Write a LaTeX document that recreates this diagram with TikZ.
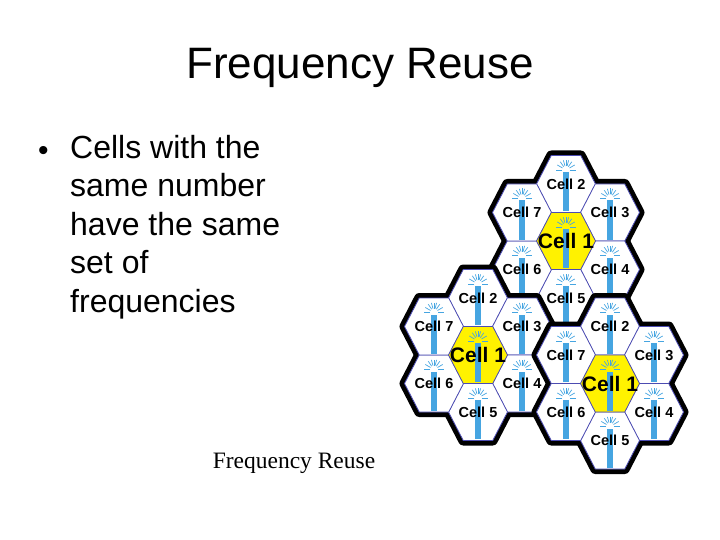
\documentclass[tikz,border=0pt]{standalone}
\usepackage{fontspec}
\setmainfont{Liberation Sans}
\newfontfamily\timesf{Liberation Serif}
\usetikzlibrary{calc}
\begin{document}
\begin{tikzpicture}[x=1pt,y=-1pt,
  thickb/.style={draw=black,line width=10pt,line join=round},
  whitef/.style={fill=white},
  thinl/.style={draw=blue!40!gray,line width=0.8pt},
  lbl/.style={font=\bfseries\fontsize{14.5}{14.5}\selectfont,inner sep=1pt},
  bigl/.style={font=\bfseries\fontsize{21}{21}\selectfont,inner sep=1pt},
  txt/.style={font=\fontsize{32}{38.5}\selectfont,inner sep=0pt}]
\useasboundingbox (0,0) rectangle (720,540);
\definecolor{ant}{RGB}{70,165,225}
\def\R{29.5}\def\h{28.5}
\newcommand\hexpath[1]{(#1) ++(-\R,0) -- ++(\R/2,-\h) -- ++(\R,0) -- ++(\R/2,\h) -- ++(-\R/2,\h) -- ++(-\R,0) -- cycle}
\newcommand\antenna[1]{%
  \fill[ant] ($(#1)+(-3,-12)$) rectangle ($(#1)+(3,27)$);
  \foreach \a in {0,30,55,75,90,105,125,150,180}{\draw[ant,line width=0.7pt] ($(#1)+({4*cos(\a)},{-14-4*sin(\a)})$) -- ++({6*cos(\a)},{-6*sin(\a)});}}
\newcommand\cluster[3]{%
  \coordinate (#1c) at (#2,#3);
  \coordinate (#1n2) at (#2,#3-57);
  \coordinate (#1n5) at (#2,#3+57);
  \coordinate (#1n7) at (#2-44,#3-28.5);
  \coordinate (#1n3) at (#2+44,#3-28.5);
  \coordinate (#1n6) at (#2-44,#3+28.5);
  \coordinate (#1n4) at (#2+44,#3+28.5);
  \foreach \n in {c,n2,n3,n4,n5,n6,n7}{\path[thickb] \hexpath{#1\n};}
  \foreach \n in {n2,n3,n4,n5,n6,n7}{\path[whitef,thinl] \hexpath{#1\n};}
  \path[fill=yellow,thinl] \hexpath{#1c};
  \foreach \n in {c,n2,n3,n4,n5,n6,n7}{\antenna{#1\n}}
  \node[bigl] (#1l1) at (#1c) {Cell 1};
  \foreach \n/\t in {n2/2,n3/3,n4/4,n5/5,n6/6,n7/7}{\node[lbl] (#1l\t) at (#1\n) {Cell \t};}
}
\cluster{A}{566}{241}
\cluster{B}{478}{355}
\cluster{C}{610}{383.5}
\node[font=\fontsize{44}{44}\selectfont] (title) at (360,68) {Frequency Reuse};
\node[font=\fontsize{30}{30}\selectfont,anchor=base west,inner sep=0] (bul) at (38,161) {•};
\node[txt,align=left,anchor=north west] (body) at (70,135) {Cells with the\\same number\\have the same\\set of\\frequencies};
\node[font=\timesf\fontsize{23.5}{23.5}\selectfont] (cap) at (294,463) {Frequency Reuse};
\end{tikzpicture}
\end{document}
